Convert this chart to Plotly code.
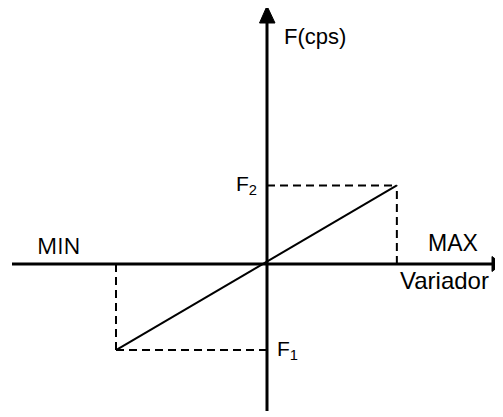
import plotly.graph_objects as go

# ---- data (normalized units; origin at the axes crossing) ----
variador = [-1.0, 0.86]          # MIN end, MAX end of the variator
frecuencia = [-0.57, 0.52]       # F1, F2
freq_labels = ["F<sub>1</sub>", "F<sub>2</sub>"]
x_labels = ["MIN", "MAX"]
axis_titles = ["Variador", "F(cps)"]

PAGE_W, PAGE_H = 503, 417
OFF = 8                       # default body margin of the html page
W, H = PAGE_W - OFF, PAGE_H - OFF
OX, OY, S = 267, 264, 151.0   # page-pixel origin and pixels per unit


def dx(px):
    return (px - OX) / S


def dy(py):
    return (OY - py) / S


fig = go.Figure()

# main linear relation
fig.add_trace(go.Scatter(x=variador, y=frecuencia, mode="lines",
                         line=dict(color="black", width=2), hoverinfo="skip"))
# dashed guides
dash = "8px,5px"
for xv, fv in zip(variador, frecuencia):
    fig.add_trace(go.Scatter(x=[xv, xv], y=[0, fv], mode="lines",
                             line=dict(color="black", width=2, dash=dash), hoverinfo="skip"))
    fig.add_trace(go.Scatter(x=[0, xv], y=[fv, fv], mode="lines",
                             line=dict(color="black", width=2, dash=dash), hoverinfo="skip"))

shapes = [
    # horizontal axis
    dict(type="line", x0=dx(12), x1=dx(494), y0=0, y1=0,
         line=dict(color="black", width=3)),
    # vertical axis
    dict(type="line", x0=0, x1=0, y0=dy(411), y1=dy(20),
         line=dict(color="black", width=3)),
    # arrow heads
    dict(type="path",
         path=f"M {dx(267)} {dy(6)} L {dx(259.5)} {dy(23)} L {dx(275)} {dy(23)} Z",
         fillcolor="black", line=dict(color="black", width=1)),
    dict(type="path",
         path=f"M {dx(502)} {dy(264)} L {dx(492)} {dy(256.5)} L {dx(492)} {dy(271.5)} Z",
         fillcolor="black", line=dict(color="black", width=1)),
]

arial = "Liberation Sans, Arial, sans-serif"
annotations = [
    dict(x=dx(282), y=dy(36), text=axis_titles[1], xanchor="left", yanchor="middle",
         font=dict(family=arial, size=22, color="black")),
    dict(x=dx(444), y=dy(296), text=axis_titles[0], xanchor="center", yanchor="bottom",
         font=dict(family=arial, size=24, color="black")),
    dict(x=dx(58), y=dy(245), text=x_labels[0], xanchor="center", yanchor="middle",
         font=dict(family="Open Sans, sans-serif", size=22.5, color="black")),
    dict(x=dx(453), y=dy(243), text=x_labels[1], xanchor="center", yanchor="middle",
         font=dict(family=arial, size=23, color="black")),
    dict(x=dx(259), y=frecuencia[1], text=freq_labels[1],
         xanchor="right", yanchor="middle",
         font=dict(family=arial, size=21, color="black")),
    dict(x=dx(275), y=frecuencia[0], text=freq_labels[0],
         xanchor="left", yanchor="middle",
         font=dict(family=arial, size=21, color="black")),
]
for a in annotations:
    a.update(showarrow=False, xref="x", yref="y")

fig.update_layout(
    width=W, height=H, margin=dict(l=0, r=0, t=0, b=0),
    paper_bgcolor="white", plot_bgcolor="white", showlegend=False,
    shapes=shapes, annotations=annotations,
    xaxis=dict(range=[dx(OFF), dx(PAGE_W)], visible=False, fixedrange=True),
    yaxis=dict(range=[dy(PAGE_H), dy(OFF)], visible=False, fixedrange=True),
)

fig.write_html("out.html", config={"displayModeBar": False})
